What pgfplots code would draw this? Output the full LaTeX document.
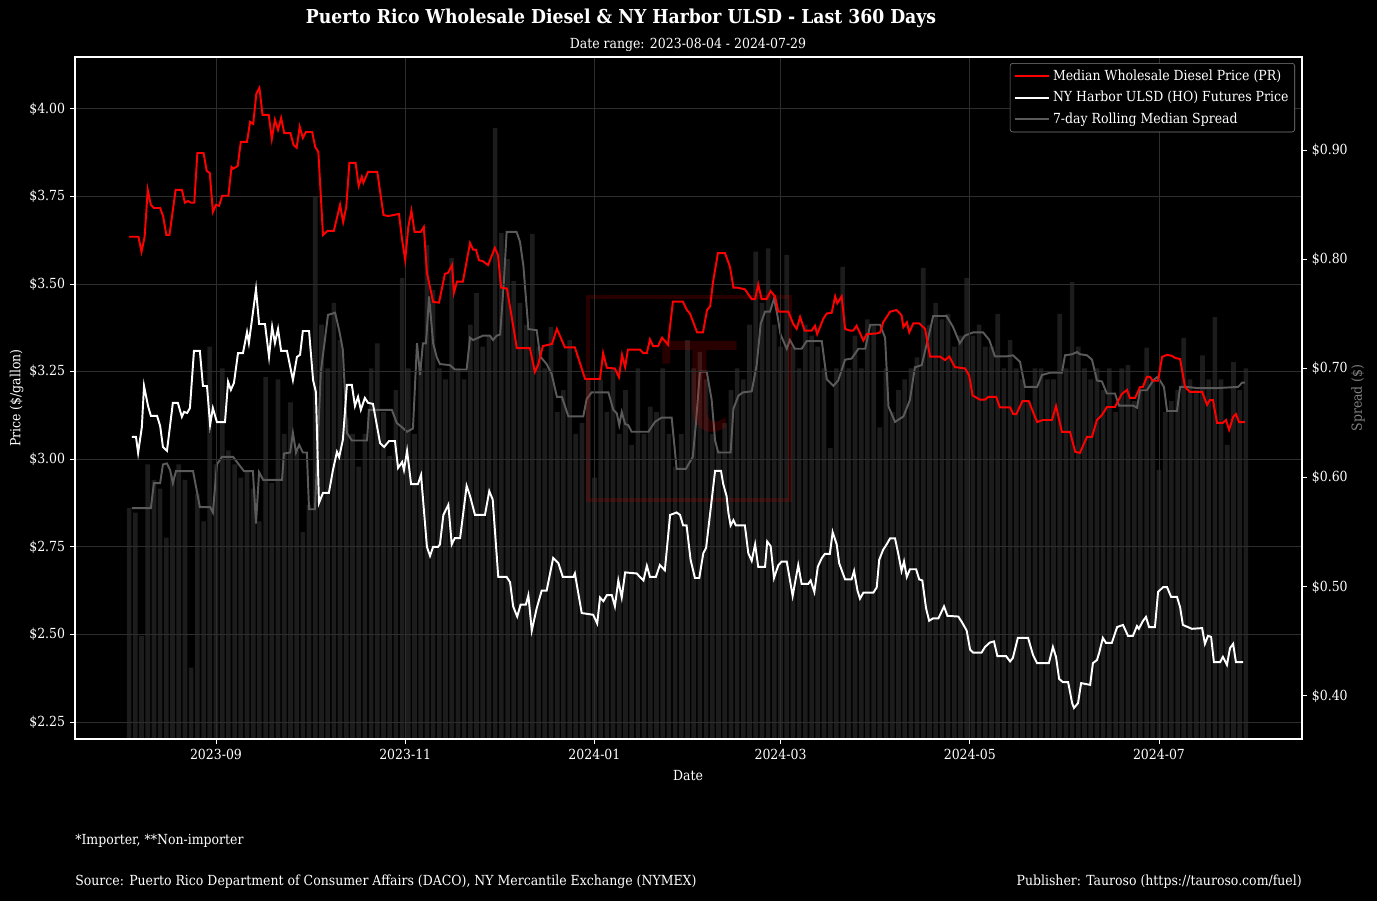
\documentclass[border=0pt]{standalone}
\usepackage{fontspec}
\setmainfont{DejaVu Serif Condensed}[BoldFont={DejaVu Serif Condensed Bold}]
\usepackage{pgfplots}
\pgfplotsset{compat=1.18}
\definecolor{barc}{RGB}{28,28,28}
\definecolor{gridc}{RGB}{45,45,45}
\definecolor{spreadc}{RGB}{90,90,90}
\definecolor{legbord}{RGB}{130,130,130}
\definecolor{labgray}{RGB}{128,128,128}
\newcommand{\tf}{\fontsize{10}{12}\selectfont}
\begin{document}
\begin{tikzpicture}
\fill[black] (0pt,0pt) rectangle (991.44pt,648.72pt);
% ---------- spread axis (right) ----------
\begin{axis}[at={(54pt,116.64pt)}, anchor=south west, scale only axis,
  width=883.44pt, height=491.04pt,
  xmin=-45.45, xmax=350.1, ymin=0.3606, ymax=0.9852,
  hide x axis, axis line style={draw=none},
  ytick pos=right, yticklabel pos=right, tick align=outside,
  major tick length=3.6pt, tick style={white, line width=0.7pt},
  ytick={0.4,0.5,0.6,0.7,0.8,0.9},
  yticklabels={\$0.40,\$0.50,\$0.60,\$0.70,\$0.80,\$0.90},
  yticklabel style={text=white, font=\tf},
  clip=true]
\addplot[ybar, bar width=1.5, fill=barc, draw=none] coordinates {
(-28,0.572) (-26,0.568) (-24,0.455) (-22,0.612) (-20,0.598) (-18,0.590) (-16,0.545) (-14,0.602) (-12,0.612) (-10,0.598)
(-8,0.426) (-6,0.585) (-4,0.560) (-2,0.720) (0,0.612) (2,0.700) (4,0.625) (6,0.612) (8,0.600) (10,0.605)
(12,0.590) (14,0.560) (16,0.692) (18,0.595) (20,0.690) (22,0.640) (24,0.669) (26,0.625) (28,0.550) (30,0.575)
(32,0.857) (34,0.740) (36,0.700) (38,0.760) (40,0.726) (42,0.655) (44,0.640) (46,0.610) (48,0.640) (50,0.700)
(52,0.723) (54,0.660) (56,0.620) (58,0.680) (60,0.783) (62,0.700) (64,0.640) (66,0.700) (68,0.813) (70,0.772)
(72,0.700) (74,0.690) (76,0.801) (78,0.700) (80,0.690) (82,0.740) (84,0.769) (86,0.720) (88,0.730) (90,0.920)
(92,0.824) (94,0.800) (96,0.780) (98,0.760) (100,0.740) (102,0.823) (104,0.720) (106,0.700) (108,0.738) (110,0.660)
(112,0.680) (114,0.726) (116,0.640) (118,0.650) (120,0.690) (122,0.600) (124,0.690) (126,0.660) (128,0.700) (130,0.640)
(132,0.680) (134,0.630) (136,0.700) (138,0.640) (140,0.665) (142,0.660) (144,0.700) (146,0.640) (148,0.610) (150,0.640)
(152,0.726) (154,0.700) (156,0.715) (158,0.690) (160,0.640) (162,0.625) (164,0.650) (166,0.680) (168,0.700) (170,0.690)
(172,0.740) (174,0.807) (176,0.760) (178,0.810) (180,0.740) (182,0.720) (184,0.804) (186,0.720) (188,0.700) (190,0.740)
(192,0.730) (194,0.720) (196,0.700) (198,0.627) (200,0.700) (202,0.793) (204,0.700) (206,0.730) (208,0.700) (210,0.745)
(212,0.740) (214,0.646) (216,0.700) (218,0.660) (220,0.680) (222,0.690) (224,0.700) (226,0.710) (228,0.792) (230,0.740)
(232,0.760) (234,0.745) (236,0.750) (238,0.720) (240,0.730) (242,0.783) (244,0.730) (246,0.740) (248,0.720) (250,0.720)
(252,0.750) (254,0.700) (256,0.726) (258,0.700) (260,0.690) (262,0.670) (264,0.700) (266,0.700) (268,0.690) (270,0.690)
(272,0.750) (274,0.700) (276,0.779) (278,0.720) (280,0.700) (282,0.690) (284,0.700) (286,0.680) (288,0.700) (290,0.660)
(292,0.700) (294,0.703) (296,0.670) (298,0.680) (300,0.719) (302,0.690) (304,0.607) (306,0.660) (308,0.670) (310,0.680)
(312,0.728) (314,0.690) (316,0.680) (318,0.712) (320,0.690) (322,0.747) (324,0.690) (326,0.630) (328,0.706) (330,0.680)
(332,0.700)
};
\addplot[spreadc, line width=1.4pt] coordinates {
(-27.1,0.572) (-21,0.572) (-20,0.595) (-18,0.595) (-17.1,0.612) (-15.8,0.613) (-14.8,0.607) (-13.9,0.595) (-12.9,0.606)
(-7.4,0.606) (-5.2,0.573) (-1.9,0.573) (-1,0.568) (0.3,0.612) (1.9,0.619) (5.5,0.619) (7.1,0.613) (9,0.606) (11.9,0.606)
(12.9,0.558) (13.9,0.605) (15.2,0.598) (21.3,0.598) (21.9,0.622) (23.9,0.623) (24.8,0.641) (25.8,0.623) (26.8,0.630)
(28,0.623) (29.3,0.623) (30,0.571) (31.9,0.571) (33.8,0.697) (35.1,0.726) (36.1,0.749) (38.4,0.751) (39.7,0.735)
(40.9,0.717) (42.2,0.641) (43.8,0.634) (48.7,0.634) (49.3,0.662) (56.7,0.662) (58.3,0.650) (60,0.646) (61.6,0.642)
(63.5,0.645) (64.8,0.723) (65.8,0.694) (66.7,0.723) (67.7,0.723) (68.7,0.766) (70,0.723) (71.2,0.710) (72.2,0.704)
(75.4,0.703) (77,0.699) (80.8,0.699) (81.9,0.728) (82.9,0.726) (86.1,0.730) (88.3,0.730) (89.3,0.726) (90.5,0.730)
(91.6,0.731) (92.8,0.779) (93.7,0.825) (96.9,0.825) (98,0.816) (99.1,0.794) (100.7,0.736) (103.4,0.735) (104.5,0.711)
(106.6,0.704) (108.2,0.695) (109.9,0.674) (111.5,0.674) (113.6,0.656) (118.4,0.656) (119.5,0.672) (121.1,0.678)
(126.5,0.678) (128.1,0.662) (129.2,0.659) (130,0.648) (130.8,0.660) (131.9,0.649) (132.9,0.648) (134,0.642) (139.4,0.642)
(141.5,0.651) (143.7,0.655) (146.9,0.655) (148.5,0.608) (151.5,0.608) (153.7,0.619) (154.7,0.649) (156,0.697)
(158.2,0.697) (159.8,0.671) (160.9,0.634) (161.9,0.623) (165.9,0.623) (166.8,0.663) (168.4,0.675) (169.8,0.678)
(172.7,0.679) (174.3,0.703) (175.6,0.741) (177,0.752) (178.6,0.752) (179.9,0.764) (180.9,0.750) (182,0.731) (184,0.718)
(185,0.726) (186.6,0.718) (188.8,0.718) (190.4,0.725) (195.3,0.725) (196.9,0.690) (199,0.684) (200.6,0.689) (202.8,0.708)
(204.9,0.709) (207.1,0.718) (209.3,0.718) (210.9,0.740) (214.1,0.740) (215.7,0.728) (216.8,0.665) (218.9,0.651)
(221.6,0.656) (223.7,0.671) (225.3,0.701) (227.5,0.703) (229.6,0.728) (231.2,0.748) (235.5,0.748) (237.6,0.738)
(239.8,0.723) (241.4,0.730) (244.1,0.733) (247.3,0.733) (249.3,0.726) (251.1,0.711) (254.8,0.711) (256.9,0.712)
(259.2,0.706) (260.8,0.683) (264.7,0.683) (266.3,0.694) (268.9,0.696) (272.7,0.696) (273.7,0.712) (276,0.713)
(277.6,0.715) (278.5,0.713) (280.8,0.712) (282.4,0.708) (284,0.689) (285.6,0.688) (287.2,0.677) (289.8,0.677)
(291.1,0.666) (295.6,0.666) (296.9,0.664) (297.9,0.680) (300.1,0.680) (302.1,0.689) (303.4,0.692) (304.3,0.689)
(305.6,0.683) (306.6,0.661) (309.8,0.661) (310.8,0.683) (313.1,0.683) (316.3,0.682) (322.7,0.682) (329.5,0.683)
(330.8,0.687) (331.7,0.687)
};
\end{axis}
% ---------- watermark ----------
\draw[red, opacity=0.16, line width=3pt] (423.36pt,288.72pt) rectangle (568.8pt,434.88pt);
\node[text=red, opacity=0.16, font=\fontsize{125}{125}\selectfont] at (504pt,368pt) {τ};
% ---------- price axis (left) ----------
\begin{axis}[at={(54pt,116.64pt)}, anchor=south west, scale only axis,
  width=883.44pt, height=491.04pt,
  xmin=-45.45, xmax=350.1, ymin=2.2015, ymax=4.148,
  axis line style={white, line width=0.8pt},
  xtick pos=left, ytick pos=left, tick align=outside,
  major tick length=3.6pt, tick style={white, line width=0.7pt},
  xtick={0,61,122,182,243,304},
  xticklabels={2023-09,2023-11,2024-01,2024-03,2024-05,2024-07},
  ytick={2.25,2.5,2.75,3,3.25,3.5,3.75,4},
  yticklabels={\$2.25,\$2.50,\$2.75,\$3.00,\$3.25,\$3.50,\$3.75,\$4.00},
  xticklabel style={text=white, font=\tf},
  yticklabel style={text=white, font=\tf},
  grid=major, major grid style={gridc, line width=0.6pt},
  legend cell align=left,
  legend style={at={(0.9943,0.9912)}, anchor=north east, fill=black,
    draw=legbord, rounded corners=2pt, text=white, font=\tf,
    row sep=2.6pt, inner sep=2.5pt},
  legend image code/.code={\draw[#1] (0pt,0pt) -- (21pt,0pt); \path (0pt,0pt) -- (25pt,0pt);},
  clip=true]
\addplot[red, line width=1.4pt] coordinates {
(-28,3.635) (-25,3.635) (-24,3.592) (-23,3.635) (-22,3.769) (-21,3.726) (-20,3.717) (-18,3.717) (-17,3.692) (-16,3.640)
(-15,3.640) (-13,3.769) (-11,3.769) (-10,3.732) (-9,3.737) (-8,3.732) (-7,3.732) (-6,3.874) (-4,3.874) (-3,3.823)
(-2,3.817) (-1,3.706) (0,3.726) (1,3.723) (2,3.752) (4,3.752) (5,3.834) (5.5,3.829) (7,3.837) (8,3.906) (10,3.906)
(11,3.963) (12,3.957) (13,4.043) (14,4.060) (15,3.983) (17,3.983) (18,3.914) (19,3.969) (20,3.940) (21,3.974) (22,3.931)
(24,3.931) (25,3.897) (26,3.889) (27,3.949) (28,3.917) (29,3.934) (31,3.934) (32,3.891) (33,3.877) (34.5,3.640)
(36,3.652) (38,3.652) (39,3.689) (40,3.726) (41,3.677) (42,3.720) (43,3.846) (45,3.846) (46,3.780) (47,3.806)
(47.5,3.789) (49,3.820) (52,3.820) (54,3.697) (55.5,3.694) (59,3.700) (60,3.626) (61,3.569) (62,3.663) (63,3.709)
(64,3.649) (66,3.649) (67,3.663) (68,3.532) (70,3.449) (71.9,3.447) (73.8,3.529) (74.8,3.532) (76.1,3.554) (76.7,3.475)
(77.7,3.507) (79.6,3.507) (81.9,3.617) (82.9,3.598) (83.8,3.598) (84.8,3.568) (86.1,3.565) (87.7,3.554) (89.9,3.603)
(90.9,3.583) (91.9,3.490) (93.8,3.487) (97,3.317) (101.2,3.317) (102.8,3.249) (103.8,3.268) (105.4,3.323) (108.3,3.329)
(109.9,3.372) (112.5,3.319) (115.7,3.319) (119,3.229) (123.8,3.229) (124.8,3.303) (126,3.261) (128.6,3.259) (129.9,3.234)
(130.9,3.298) (131.9,3.263) (132.8,3.313) (136.7,3.313) (137.7,3.303) (138.9,3.303) (139.9,3.342) (140.9,3.323)
(142.5,3.323) (143.8,3.347) (145.7,3.327) (147.3,3.450) (150.5,3.450) (151.8,3.426) (152.8,3.416) (155.1,3.362)
(157,3.362) (158.3,3.426) (159.3,3.436) (160.2,3.504) (161.8,3.588) (164.1,3.588) (165.7,3.549) (166.8,3.490)
(167.9,3.490) (170.5,3.485) (172.7,3.457) (173.8,3.457) (174.8,3.499) (175.9,3.457) (177.5,3.457) (178.8,3.480)
(180.2,3.465) (181.3,3.421) (184.5,3.421) (186.1,3.386) (187.2,3.372) (188.3,3.406) (189.8,3.367) (192,3.367)
(193.1,3.381) (193.8,3.357) (195.8,3.401) (196.9,3.416) (198.5,3.418) (199.6,3.465) (200.3,3.445) (201.7,3.465)
(202.8,3.372) (204.4,3.367) (205.4,3.367) (206.5,3.381) (208.7,3.339) (209.8,3.357) (213,3.359) (214.1,3.362)
(215.1,3.391) (217.3,3.421) (219.4,3.426) (221,3.411) (221.6,3.377) (222.7,3.391) (223.5,3.362) (224.8,3.388)
(226.7,3.388) (228.6,3.372) (230.2,3.293) (233.4,3.293) (235,3.283) (236.4,3.293) (238.2,3.263) (241.5,3.259)
(242.8,3.239) (243.9,3.182) (246.3,3.170) (247.9,3.170) (249,3.178) (251.5,3.178) (252.7,3.148) (256,3.148) (257,3.129)
(258,3.129) (260,3.166) (262,3.166) (264.7,3.106) (266.6,3.112) (269.5,3.112) (270.8,3.152) (272.7,3.078) (275.3,3.078)
(277,3.021) (278.5,3.018) (280.8,3.064) (282.4,3.064) (284,3.112) (285.6,3.126) (287.2,3.149) (289.8,3.149) (292,3.186)
(293.7,3.198) (294.6,3.175) (296.3,3.175) (297.9,3.206) (298.8,3.206) (300.1,3.235) (301.1,3.235) (302,3.224)
(303.7,3.224) (305,3.292) (306.6,3.298) (308.2,3.295) (309.2,3.289) (310.8,3.286) (312.4,3.206) (314,3.192)
(317.9,3.192) (319.5,3.155) (320.4,3.169) (321.4,3.169) (322.7,3.104) (324.6,3.104) (325.6,3.112) (326.6,3.084)
(327.9,3.121) (328.8,3.129) (329.8,3.106) (331.7,3.106)
};
\addlegendentry{Median Wholesale Diesel Price (PR)}
\addplot[white, line width=1.4pt] coordinates {
(-27.1,3.064) (-25.8,3.064) (-25.1,3.018) (-23.9,3.092) (-23.2,3.209) (-21.9,3.152) (-21,3.124) (-19,3.124) (-18,3.095)
(-17.1,3.035) (-15.8,3.024) (-13.9,3.161) (-12.3,3.161) (-11,3.121) (-10.3,3.135) (-9.3,3.132) (-8.4,3.146) (-7.1,3.309)
(-5.2,3.309) (-4.2,3.209) (-2.9,3.209) (-1.9,3.098) (-1,3.146) (0.3,3.106) (2.9,3.106) (3.9,3.221) (4.8,3.198)
(5.8,3.218) (7.1,3.303) (8.7,3.303) (10,3.363) (10.6,3.332) (11.9,3.418) (12.9,3.486) (13.9,3.386) (15.8,3.386)
(17.1,3.292) (18.1,3.378) (19,3.332) (20,3.372) (21,3.309) (22.9,3.309) (24.8,3.226) (26.1,3.292) (27.1,3.298)
(28,3.366) (30,3.366) (31.3,3.226) (32.2,3.192) (33.2,2.875) (34.5,2.904) (36.4,2.904) (37.7,2.969) (39,3.021)
(39.7,3.006) (40.9,3.055) (42.2,3.212) (43.8,3.212) (44.8,3.152) (45.8,3.178) (46.7,3.141) (48,3.175) (49,3.161)
(50.6,3.158) (52.9,3.046) (54.2,3.035) (55.8,3.052) (57.7,3.052) (58.7,2.975) (60,2.992) (60.6,2.969) (61.6,3.024)
(62.9,2.929) (65.1,2.929) (66.1,2.955) (68,2.750) (69,2.724) (70,2.750) (71.6,2.750) (72.2,2.757) (73.3,2.841)
(74.9,2.870) (76,2.757) (77,2.775) (78.7,2.775) (80.8,2.924) (81.9,2.895) (83.5,2.841) (86.7,2.841) (88.1,2.909)
(89.2,2.885) (91,2.664) (93.7,2.664) (94.8,2.649) (95.8,2.580) (97.1,2.551) (98.2,2.585) (99.9,2.585) (100.7,2.612)
(101.8,2.511) (103.4,2.575) (105,2.625) (106.6,2.625) (108.7,2.718) (110.4,2.703) (111.8,2.664) (115.2,2.664)
(115.7,2.674) (117.9,2.561) (121.6,2.556) (122.9,2.531) (123.8,2.605) (124.9,2.595) (126,2.612) (127.6,2.612)
(128.6,2.580) (129.7,2.654) (130.8,2.605) (131.9,2.677) (135.6,2.674) (137.8,2.654) (138.9,2.696) (139.9,2.664)
(141.8,2.664) (143.1,2.698) (144.7,2.683) (146.4,2.841) (148.5,2.848) (149.6,2.841) (150.6,2.811) (151.7,2.811)
(153,2.713) (154.4,2.661) (155.8,2.661) (157.1,2.732) (158,2.747) (160.9,2.967) (162.8,2.967) (163.5,2.930)
(164.6,2.895) (165.2,2.846) (165.9,2.811) (166.8,2.826) (167.6,2.811) (170.5,2.811) (171.6,2.732) (172.7,2.710)
(173.8,2.757) (174.8,2.693) (177,2.693) (177.7,2.765) (178.8,2.752) (179.9,2.661) (181.3,2.698) (182.4,2.708)
(184,2.708) (185.9,2.610) (187.7,2.698) (188.8,2.644) (190.9,2.644) (191.7,2.654) (192.9,2.621) (194,2.693)
(195.3,2.718) (196.3,2.730) (197.9,2.730) (198.8,2.792) (200.1,2.757) (200.9,2.703) (202.8,2.657) (204.9,2.657)
(205.7,2.681) (206.8,2.625) (207.6,2.602) (208.7,2.619) (211.9,2.619) (213,2.634) (213.8,2.713) (215.1,2.742)
(216.2,2.757) (217.3,2.774) (218.9,2.774) (220,2.728) (221,2.681) (221.8,2.708) (222.7,2.664) (223.7,2.686)
(225.7,2.686) (226.7,2.657) (227.7,2.654) (228.9,2.575) (229.9,2.539) (231.2,2.546) (232.9,2.546) (234.7,2.580)
(235.8,2.553) (239.3,2.551) (240.4,2.536) (242,2.511) (243.1,2.457) (244.1,2.448) (246.8,2.448) (247.9,2.464)
(249.5,2.477) (250.8,2.480) (251.9,2.438) (254.7,2.438) (256,2.423) (256.9,2.433) (258.5,2.490) (261.8,2.490)
(263.4,2.441) (264.7,2.418) (268.5,2.418) (269.8,2.464) (270.8,2.436) (271.8,2.373) (273,2.364) (274.7,2.364)
(276,2.304) (276.6,2.290) (277.9,2.304) (278.9,2.361) (281.8,2.356) (282.7,2.418) (284,2.427) (284.7,2.447)
(285.9,2.490) (286.9,2.476) (288.8,2.476) (290.5,2.521) (292.4,2.527) (294,2.496) (295.6,2.496) (296.9,2.524)
(297.5,2.516) (298.8,2.538) (299.8,2.550) (300.8,2.521) (302.7,2.521) (303.7,2.621) (305.3,2.635) (306.6,2.635)
(307.9,2.607) (309.8,2.607) (310.8,2.578) (311.7,2.527) (313.3,2.521) (314.6,2.516) (317.9,2.518) (318.8,2.473)
(319.8,2.496) (320.8,2.493) (321.7,2.421) (323.7,2.421) (324.6,2.436) (325.9,2.413) (326.9,2.461) (327.9,2.473)
(328.8,2.421) (331.1,2.421)
};
\addlegendentry{NY Harbor ULSD (HO) Futures Price}
\addlegendimage{spreadc, line width=1.4pt}
\addlegendentry{7-day Rolling Median Spread}
\end{axis}
% ---------- texts ----------
\node[text=white, font=\fontsize{13.8}{16.5}\selectfont\bfseries] at (447.12pt,635.76pt) {Puerto Rico Wholesale Diesel \& NY Harbor ULSD - Last 360 Days};
\node[text=white, font=\tf] at (495.36pt,616.68pt) {Date range: 2023-08-04 - 2024-07-29};
\node[text=white, font=\tf] at (495.36pt,90pt) {Date};
\node[text=white, font=\tf, rotate=90] at (12pt,362.16pt) {Price (\$/gallon)};
\node[text=labgray, font=\tf, rotate=90] at (977.76pt,362.16pt) {Spread (\$)};
\node[text=white, font=\tf, anchor=west, inner sep=0pt] at (54pt,43.2pt) {*Importer, **Non-importer};
\node[text=white, font=\tf, anchor=west, inner sep=0pt] at (54pt,13.68pt) {Source: Puerto Rico Department of Consumer Affairs (DACO), NY Mercantile Exchange (NYMEX)};
\node[text=white, font=\tf, anchor=east, inner sep=0pt] at (937.44pt,13.68pt) {Publisher: Tauroso (https://tauroso.com/fuel)};
\end{tikzpicture}
\end{document}
